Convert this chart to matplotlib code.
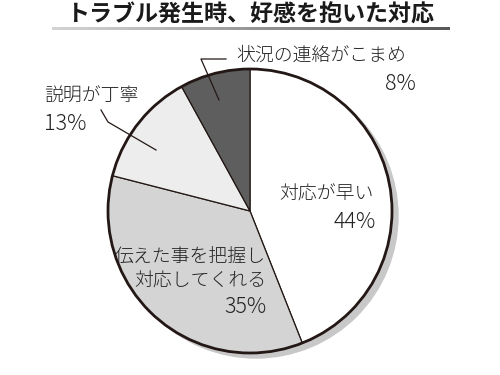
import numpy as np
import matplotlib
matplotlib.use("Agg")
import matplotlib.pyplot as plt
from matplotlib.patches import Circle

plt.rcParams["font.family"] = ["Noto Sans CJK JP", "DejaVu Sans"]

TITULO = "トラブル発生時、好感を抱いた対応"
ETIQUETAS = ["対応が早い", "伝えた事を把握し\n対応してくれる", "説明が丁寧", "状況の連絡がこまめ"]
VALORES = [44, 35, 13, 8]
COLORES = ["#ffffff", "#d4d4d4", "#ededed", "#5e5e5e"]
TINTA = "#231815"

W, H = 500, 375
fig = plt.figure(figsize=(5, 3.75), dpi=100)
ax = fig.add_axes([0, 0, 1, 1])


def py(y):
    # coordenada vertical en pixeles (desde arriba) -> datos
    return H - y


cx, cy, r = 250, py(211), 142

# sombra
ax.add_patch(Circle((cx + 6, cy - 5), r, color="#c8c8c8", zorder=0))

ax.pie(VALORES, colors=COLORES, startangle=90, counterclock=False,
       center=(cx, cy), radius=r,
       wedgeprops=dict(edgecolor=TINTA, linewidth=0.9))
ax.add_patch(Circle((cx, cy), r, fill=False, edgecolor=TINTA, linewidth=2, zorder=5))

ax.set_xlim(0, W); ax.set_ylim(0, H)
ax.set_aspect("equal")
ax.axis("off")

# título y subrayado degradado
ax.text(250, py(15), TITULO, ha="center", va="center", fontsize=16.6,
        fontweight="bold", color="#1a1a1a")
grad = np.linspace(0, 1, 256).reshape(1, -1)
ax.imshow(grad, cmap="Greys", vmin=-0.6, vmax=1.6, extent=(52, 450, py(30), py(27)),
          aspect="auto", zorder=1)
ax.set_xlim(0, W); ax.set_ylim(0, H)

fs = 13.6
col = "#222222"
txt = dict(fontsize=fs, color=col, fontweight="light", va="center")
pct = dict(txt, fontsize=15.5)
# 対応が早い
ax.text(326, py(195), ETIQUETAS[0], ha="center", **txt)
ax.text(376, py(222), f"{VALORES[0]}%", ha="right", **pct)
# 伝えた事を把握し
l1, l2 = ETIQUETAS[1].split("\n")
ax.text(266, py(258), l1, ha="right", **txt)
ax.text(266, py(282), l2, ha="right", **txt)
ax.text(266, py(307), f"{VALORES[1]}%", ha="right", **pct)
# 説明が丁寧
ax.text(44, py(97), ETIQUETAS[2], ha="left", **txt)
ax.text(44, py(124), f"{VALORES[2]}%", ha="left", **pct)
ax.plot([101, 108, 156], [py(110), py(122), py(150)], color=TINTA, linewidth=0.9, zorder=6)
# 状況の連絡がこまめ
ax.text(236, py(56), ETIQUETAS[3], ha="left", **txt)
ax.text(416, py(84), f"{VALORES[3]}%", ha="right", **pct)
ax.plot([226, 201, 219], [py(59), py(59), py(100)], color=TINTA, linewidth=0.9, zorder=6)

fig.savefig("out.png", dpi=100)
